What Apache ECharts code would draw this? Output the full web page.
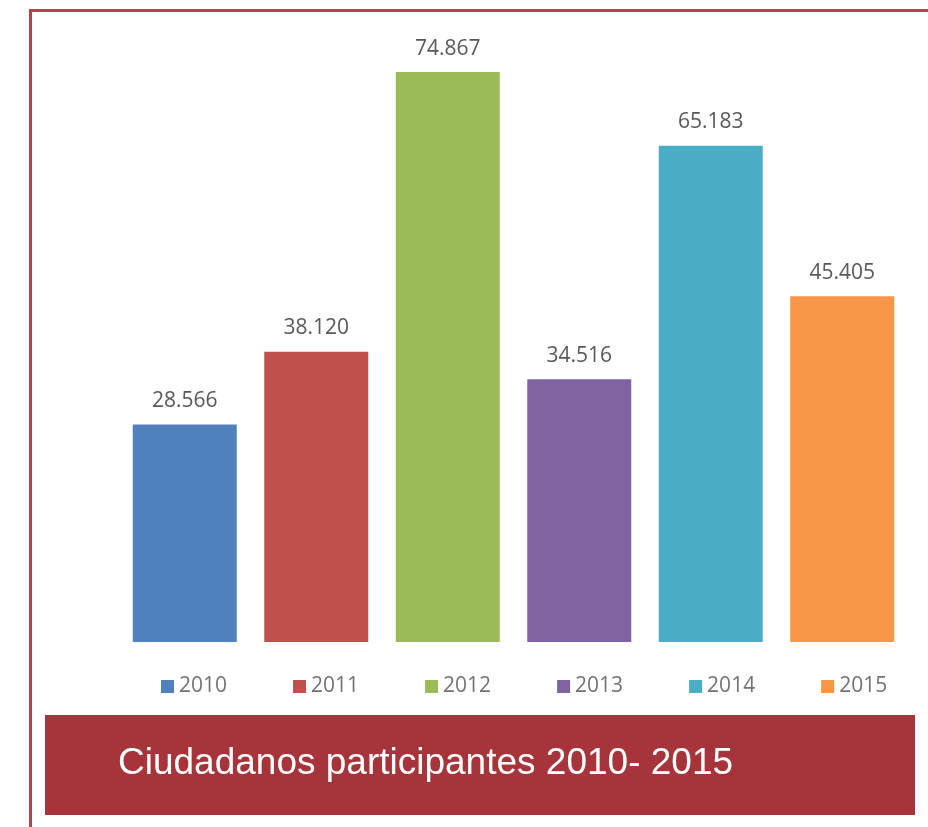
<!DOCTYPE html>
<html>
<head>
<meta charset="utf-8">
<script src="https://cdn.jsdelivr.net/npm/echarts@6/dist/echarts.min.js"></script>
<style>
  html, body { margin: 0; padding: 0; background: #fff; }
  #main { width: 928px; height: 827px; }
</style>
</head>
<body>
<div id="main"></div>
<script>
var years = ['2010', '2011', '2012', '2013', '2014', '2015'];
var participants = [28566, 38120, 74867, 34516, 65183, 45405];
var colors = ['#4f81bd', '#c0504d', '#9bbb59', '#8064a2', '#4bacc6', '#f79646'];
var titleText = 'Ciudadanos participantes 2010- 2015';

var chart = echarts.init(document.getElementById('main'));

function fmt(v) {
  return String(v).replace(/\B(?=(\d{3})+(?!\d))/g, '.');
}

// one series per year so the legend shows each year in its colour
var series = years.map(function (y, i) {
  var data = years.map(function (_, j) { return j === i ? participants[i] : null; });
  return {
    name: y,
    type: 'bar',
    stack: 'all',
    data: data,
    barWidth: 104,
    itemStyle: { color: colors[i] },
    label: {
      show: true,
      position: 'top',
      distance: 13,
      color: '#595959',
      fontSize: 21,
      fontFamily: 'Open Sans',
      formatter: function (p) { return fmt(p.value); }
    }
  };
});

var option = {
  animation: false,
  grid: { left: 119, right: 20, top: 33, bottom: 185 },
  legend: {
    left: 156,
    top: 671,
    itemWidth: 13,
    itemHeight: 13,
    itemGap: 66,
    icon: 'rect',
    textStyle: { color: '#737373', fontSize: 21, fontFamily: 'Open Sans', width: 48 },
    data: years
  },
  xAxis: {
    type: 'category',
    data: years,
    show: false
  },
  yAxis: {
    type: 'value',
    min: 0,
    max: 80000,
    show: false
  },
  graphic: [
    { type: 'line', shape: { x1: 30.5, y1: 9, x2: 30.5, y2: 827 }, style: { stroke: '#b5434c', lineWidth: 3 } },
    { type: 'line', shape: { x1: 29, y1: 10.5, x2: 928, y2: 10.5 }, style: { stroke: '#b5434c', lineWidth: 3 } },
    { type: 'rect', shape: { x: 45, y: 715, width: 870, height: 100 }, style: { fill: '#a8343b' } },
    {
      type: 'text', left: 118, top: 745,
      style: { text: titleText, fill: '#fff', font: '37px "Liberation Sans", Arial, sans-serif' }
    }
  ],
  series: series
};

chart.setOption(option);
</script>
</body>
</html>
